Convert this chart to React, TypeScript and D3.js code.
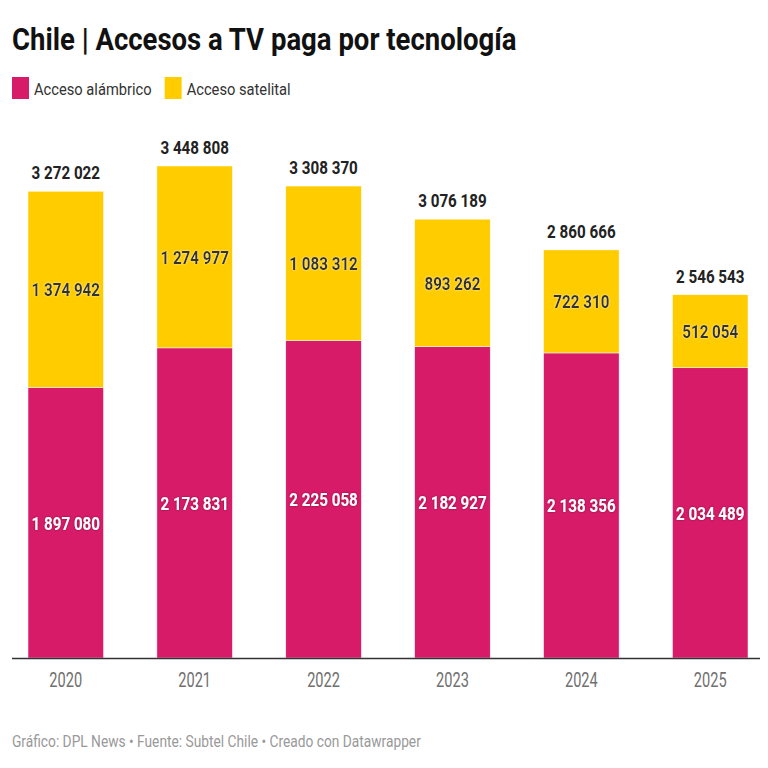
import { useEffect, useRef } from 'react';
import * as d3 from 'd3';

const years = ['2020', '2021', '2022', '2023', '2024', '2025'];
const alambrico = [1897080, 2173831, 2225058, 2182927, 2138356, 2034489];
const satelital = [1374942, 1274977, 1083312, 893262, 722310, 512054];
const totals = [3272022, 3448808, 3308370, 3076189, 2860666, 2546543];

const seriesNames = ['Acceso alámbrico', 'Acceso satelital'];
const seriesColors = ['#d81b69', '#ffcc00'];

const W = 768;
const H = 768;
const FONT = 'Roboto, sans-serif';

const fmt = (v: number) => d3.format(',')(v).replace(/,/g, '\u00a0');

export default function App() {
  const ref = useRef<SVGSVGElement | null>(null);

  useEffect(() => {
    if (!ref.current) return;
    const svg = d3.select(ref.current);
    svg.selectAll('*').remove();

    // Roboto squeezed horizontally, the original uses a condensed face
    const label = (
      g: d3.Selection<any, any, any, any>,
      x: number,
      y: number,
      txt: string,
      size: number,
      weight: number,
      fill: string,
      anchor = 'start',
      squeeze = 0.86
    ) =>
      g.append('text')
        .attr('transform', `translate(${x},${y}) scale(${squeeze},1)`)
        .attr('text-anchor', anchor)
        .attr('font-family', FONT)
        .attr('font-size', size)
        .attr('font-weight', weight)
        .attr('fill', fill)
        .text(txt);

    // Title
    label(svg, 12, 50, 'Chile | Accesos a TV paga por tecnología', 32, 700, '#111');

    // Legend
    const legend = svg.append('g');
    let lx = 12;
    seriesNames.forEach((name, i) => {
      legend.append('rect')
        .attr('x', lx).attr('y', 77)
        .attr('width', 17).attr('height', 22)
        .attr('fill', seriesColors[i]);
      const t = label(legend, lx + 22, 95, name, 17, 400, '#333', 'start', 0.865);
      const w = (t.node() as SVGTextElement).getBBox().width * 0.865;
      lx += 22 + w + 13;
    });

    const baseline = 658;
    const x = d3.scaleBand<string>()
      .domain(years)
      .range([28, 748])
      .paddingInner(0.414)
      .paddingOuter(0);

    const y = d3.scaleLinear()
      .domain([0, d3.max(totals)!])
      .range([baseline, 166]);

    const rows = years.map((yr, i) => ({ year: yr, alambrico: alambrico[i], satelital: satelital[i] }));
    const stack = d3.stack<any>().keys(['alambrico', 'satelital'])(rows);

    const defs = svg.append('defs');
    const shadow = defs.append('filter').attr('id', 'halo-dark').attr('x', '-20%').attr('y', '-40%').attr('width', '140%').attr('height', '180%');
    shadow.append('feDropShadow').attr('dx', 0).attr('dy', 0).attr('stdDeviation', 1.2).attr('flood-color', '#000').attr('flood-opacity', 0.45);
    const glow = defs.append('filter').attr('id', 'halo-light').attr('x', '-20%').attr('y', '-40%').attr('width', '140%').attr('height', '180%');
    glow.append('feDropShadow').attr('dx', 0).attr('dy', 0).attr('stdDeviation', 1.2).attr('flood-color', '#fff').attr('flood-opacity', 0.7);

    const plot = svg.append('g');
    stack.forEach((layer, si) => {
      plot.append('g')
        .selectAll('rect')
        .data(layer)
        .join('rect')
        .attr('x', (d: any) => x(d.data.year)!)
        .attr('y', (d: any) => y(d[1]))
        .attr('width', x.bandwidth())
        .attr('height', (d: any) => y(d[0]) - y(d[1]))
        .attr('fill', seriesColors[si])
        .attr('stroke', '#fff')
        .attr('stroke-width', 0.5);
    });

    // segment labels
    stack.forEach((layer, si) => {
      layer.forEach((d: any) => {
        const cx = x(d.data.year)! + x.bandwidth() / 2;
        const cy = (y(d[0]) + y(d[1])) / 2 + 7;
        label(plot, cx, cy, fmt(d[1] - d[0]), 19, 700, si === 0 ? '#fff' : '#333', 'middle', 0.8)
          .attr('filter', si === 0 ? 'url(#halo-dark)' : 'url(#halo-light)');
      });
    });

    // totals
    years.forEach((yr, i) => {
      const cx = x(yr)! + x.bandwidth() / 2;
      label(plot, cx, y(totals[i]) - 12, fmt(totals[i]), 19, 700, '#222', 'middle', 0.8);
    });

    // x axis
    svg.append('line')
      .attr('x1', 12).attr('x2', 763)
      .attr('y1', baseline + 0.5).attr('y2', baseline + 0.5)
      .attr('stroke', '#333').attr('stroke-width', 1.5);
    years.forEach((yr) => {
      label(svg, x(yr)! + x.bandwidth() / 2, 687, yr, 20, 400, '#707070', 'middle', 0.73);
    });

    // footer
    label(svg, 12, 747, 'Gráfico: DPL News • Fuente: Subtel Chile • Creado con Datawrapper', 16, 400, '#999');
  }, []);

  return <svg ref={ref} width={W} height={H} style={{ display: 'block', margin: -8, background: '#fff' }} />;
}
